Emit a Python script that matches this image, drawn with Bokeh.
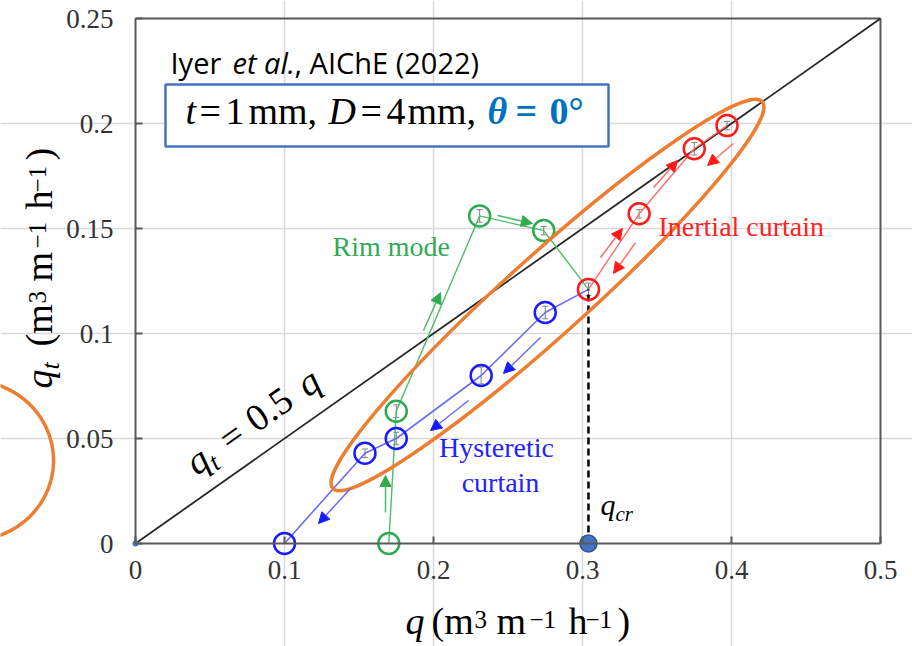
import math
import numpy as np
from bokeh.plotting import figure
from bokeh.models import (Range1d, LinearAxis, FixedTicker, Grid, Label, Arrow,
                          NormalHead, Whisker, TeeHead, ColumnDataSource,
                          CustomJSTickFormatter, BoxAnnotation)
from bokeh.embed import file_html
from bokeh.resources import INLINE

# ---------------- data ----------------
rim_q = [0.170, 0.175, 0.231, 0.274]
rim_qt = [0.000, 0.063, 0.156, 0.149]
rim_err = [0.000, 0.003, 0.003, 0.002]

inertial_q = [0.304, 0.338, 0.375, 0.397]
inertial_qt = [0.121, 0.157, 0.188, 0.199]
inertial_err = [0.003, 0.002, 0.003, 0.002]

hyst_q = [0.275, 0.232, 0.175, 0.154, 0.100]
hyst_qt = [0.110, 0.080, 0.050, 0.043, 0.000]
hyst_err = [0.003, 0.004, 0.003, 0.002, 0.000]

q_cr = 0.304
ref_q = [0.0, 0.5]
ref_slope = 0.5

x_ticks = [0, 0.1, 0.2, 0.3, 0.4, 0.5]
y_ticks = [0, 0.05, 0.1, 0.15, 0.2, 0.25]

# direction arrows (data units): x0, y0, x1, y1
green_arrows = [(0.1678, 0.0148, 0.1678, 0.0324),
                (0.1933, 0.1014, 0.2047, 0.1195),
                (0.2430, 0.1562, 0.2664, 0.1524)]
blue_arrows = [(0.2718, 0.0981, 0.2470, 0.0810),
               (0.2235, 0.0681, 0.1980, 0.0538),
               (0.1443, 0.0262, 0.1228, 0.0095)]
red_arrows = [(0.3121, 0.1362, 0.3268, 0.1500),
              (0.3477, 0.1695, 0.3638, 0.1824),
              (0.3356, 0.1433, 0.3208, 0.1286),
              (0.4013, 0.1905, 0.3839, 0.1800)]

# ---------------- layout helpers ----------------
W, H = 912, 646
X0PX, Y0PX = 135, 543          # pixel position of data origin
PX_X, PX_Y = 1490, 2100        # pixels per data unit


def X(px):
    return (px - X0PX) / PX_X


def Y(py):
    return (Y0PX - py) / PX_Y


GREEN = "#2EAA4F"
GREEN_L = "#4CBB6A"
BLUE = "#1A1AFF"
BLUE_L = "#6B6BF5"
RED = "#FF1A1A"
RED_L = "#FF6B6B"
ORANGE = "#ED7D31"
AXC = "#595959"
SERIF = "Liberation Serif"

p = figure(width=W, height=H, x_range=Range1d(X(0), X(W)), y_range=Range1d(Y(H), Y(0)),
           x_axis_type=None, y_axis_type=None, output_backend="svg",
           toolbar_location=None, min_border=0, outline_line_color=None,
           background_fill_color="white", border_fill_color="white")

# grids
p.add_layout(Grid(dimension=0, ticker=FixedTicker(ticks=x_ticks[1:-1]), bounds=(0, 0.25),
                  grid_line_color="#D9D9D9", grid_line_width=1.5))
p.add_layout(Grid(dimension=1, ticker=FixedTicker(ticks=y_ticks[1:-1]), bounds=(0, 0.5),
                  grid_line_color="#D9D9D9", grid_line_width=1.5))

fmt = CustomJSTickFormatter(code="return String(Math.round(tick*100)/100);")
common = dict(axis_line_color=AXC, axis_line_width=2, major_tick_line_color=AXC,
              major_tick_line_width=2, major_tick_in=7, major_tick_out=0,
              minor_tick_in=0, minor_tick_out=0, major_label_text_font=SERIF,
              major_label_text_font_size="27px", major_label_text_color="#333333")
xaxis = LinearAxis(fixed_location=0, bounds=(0, 0.5), ticker=FixedTicker(ticks=x_ticks),
                   formatter=fmt, major_label_standoff=17, **common)
yaxis = LinearAxis(fixed_location=0, bounds=(0, 0.25), ticker=FixedTicker(ticks=y_ticks),
                   formatter=fmt, major_label_standoff=22, **common)
p.add_layout(xaxis, "below")
p.add_layout(yaxis, "left")

# frame border (top and right)
p.multi_line([[0, 0.5], [0.5, 0.5]], [[0.25, 0.25], [0, 0.25]], line_color=AXC, line_width=2)

# reference line q_t = 0.5 q
p.line(ref_q, [ref_slope * q for q in ref_q], line_color="#262626", line_width=1.8)

# connecting lines
p.line(rim_q + inertial_q[:1], rim_qt + inertial_qt[:1], line_color=GREEN_L, line_width=1.4)
p.line(inertial_q, inertial_qt, line_color=RED_L, line_width=1.4)
p.line(inertial_q[:1] + hyst_q, inertial_qt[:1] + hyst_qt, line_color=BLUE_L, line_width=1.6)

# critical flow rate
p.line([q_cr, q_cr], [0, inertial_qt[0]], line_color="black", line_width=2.5, line_dash="7 4")

# error bars
for xs, ys, es in [(rim_q, rim_qt, rim_err), (inertial_q, inertial_qt, inertial_err),
                   (hyst_q, hyst_qt, hyst_err)]:
    src = ColumnDataSource(dict(x=xs, upper=[a + b for a, b in zip(ys, es)],
                                lower=[a - b for a, b in zip(ys, es)]))
    p.add_layout(Whisker(source=src, base="x", upper="upper", lower="lower",
                         dimension="height", line_color="#808080", line_width=1,
                         upper_head=TeeHead(size=6, line_color="#808080", line_width=1),
                         lower_head=TeeHead(size=6, line_color="#808080", line_width=1)))

# markers
p.scatter(rim_q, rim_qt, marker="circle", size=21, fill_color=None, line_color=GREEN, line_width=2.5)
p.scatter(inertial_q, inertial_qt, marker="circle", size=21, fill_color=None, line_color=RED, line_width=2.5)
p.scatter(hyst_q, hyst_qt, marker="circle", size=21, fill_color=None, line_color=BLUE, line_width=2.5)
p.scatter([q_cr], [0], marker="circle", size=17, fill_color="#4472C4", line_color="#2F528F", line_width=1.5)
p.scatter([0], [0], marker="circle", size=6, fill_color="#4472C4", line_color=None)

# orange highlight ellipses
p.ellipse(x=[X(547)], y=[Y(294.5)], width=578, height=80, angle=math.radians(42),
          width_units="screen", height_units="screen", fill_color=None,
          line_color=ORANGE, line_width=3.5)
t = np.linspace(-math.pi / 2, math.pi / 2, 120)
p.line(X(-30) + (83 / PX_X) * np.cos(t), Y(460) + (80 / PX_Y) * np.sin(t),
       line_color=ORANGE, line_width=3.5)

# arrows
for arrows, head_c, shaft_c in [(green_arrows, GREEN, GREEN_L), (blue_arrows, BLUE, BLUE_L),
                                (red_arrows, RED, RED_L)]:
    for x0, y0, x1, y1 in arrows:
        p.add_layout(Arrow(x_start=x0, y_start=y0, x_end=x1, y_end=y1,
                           line_color=shaft_c, line_width=1.5,
                           end=NormalHead(size=11, fill_color=head_c, line_color=head_c, line_width=1)))

# text box
p.add_layout(BoxAnnotation(left=X(165), right=X(608), top=Y(84), bottom=Y(146),
                           fill_color="white", fill_alpha=1, line_color="#4472C4",
                           line_width=2.5, line_alpha=1))

BASE_FIX = 0.38   # empirical baseline correction (fraction of font size)


def lab(px, py, text, size, color="black", font=SERIF, style="normal", angle=0.0,
        align="left"):
    sx = px - BASE_FIX * size * math.sin(angle)
    sy = py - BASE_FIX * size * math.cos(angle)
    p.add_layout(Label(x=X(sx), y=Y(sy), text=text, text_font=font,
                       text_font_size=f"{size}px", text_color=color,
                       text_font_style=style, angle=angle, text_align=align,
                       text_baseline="alphabetic"))


def rich(px, py, pieces, angle_deg=0.0, font=SERIF):
    a = math.radians(angle_deg)
    dx, dy = math.cos(a), -math.sin(a)
    ux, uy = -math.sin(a), -math.cos(a)
    for text, d, up, size, style, color in pieces:
        lab(px + d * dx + up * ux, py + d * dy + up * uy, text, size, color=color,
            style=style, angle=a, font=font)


# citation
lab(170, 73, "Iyer", 29, font="Open Sans")
lab(232, 73, "et al.", 29, font="Open Sans", style="italic")
lab(294, 73, ", AIChE (2022)", 29, font="Open Sans")

# box contents
TB = "#0070C0"
rich(185, 125, [("t", 0, 0, 38, "italic", "black"),
                ("=", 14, 0, 38, "normal", "black"),
                ("1", 40, 0, 38, "normal", "black"),
                ("mm,", 63, 0, 38, "normal", "black"),
                ("D", 143, 0, 38, "italic", "black"),
                ("=", 175, 0, 38, "normal", "black"),
                ("4", 201, 0, 38, "normal", "black"),
                ("mm,", 222, 0, 38, "normal", "black"),
                ("θ", 302, 0, 38, "bold italic", TB),
                ("=", 330, 0, 38, "bold", TB),
                ("0°", 364, 0, 38, "bold", TB)])

# regime labels
lab(332, 257, "Rim mode", 28, color="#33AA55")
lab(658, 237, "Inertial curtain", 28, color="#FF2222")
lab(496, 458, "Hysteretic", 28, color="#2222FF", align="center")
lab(500, 493, "curtain", 28, color="#2222FF", align="center")

# q_cr
rich(600, 515, [("q", 0, 0, 30, "italic", "black"),
                ("cr", 15, -6, 21, "italic", "black")])

# reference line label
rich(197, 477, [("q", 0, 0, 38, "italic", "black"),
                ("t", 19, -7, 26, "italic", "black"),
                ("=", 41, 0, 38, "normal", "black"),
                ("0.5", 74, 0, 38, "normal", "black"),
                ("q", 136, 0, 38, "italic", "black")], angle_deg=35.2)

# axis titles
unit_pieces = [("(m", 26, 0, 38, "normal", "black"),
               ("3", 69, 7, 25, "normal", "black"),
               ("m", 91, 0, 38, "normal", "black"),
               ("−1", 124, 7, 25, "normal", "black"),
               ("h", 163, 0, 38, "normal", "black"),
               ("−1", 180, 7, 25, "normal", "black"),
               (")", 212, 0, 38, "normal", "black")]
rich(405, 635, [("q", 0, 0, 38, "italic", "black")] + unit_pieces)
rich(53, 388, [("q", 0, 0, 38, "italic", "black"), ("t", 19, -7, 26, "italic", "black")]
     + [(tx, d + 16, up, s, st, c) for tx, d, up, s, st, c in unit_pieces], angle_deg=90)

open("out.html", "w").write(file_html(p, INLINE))
